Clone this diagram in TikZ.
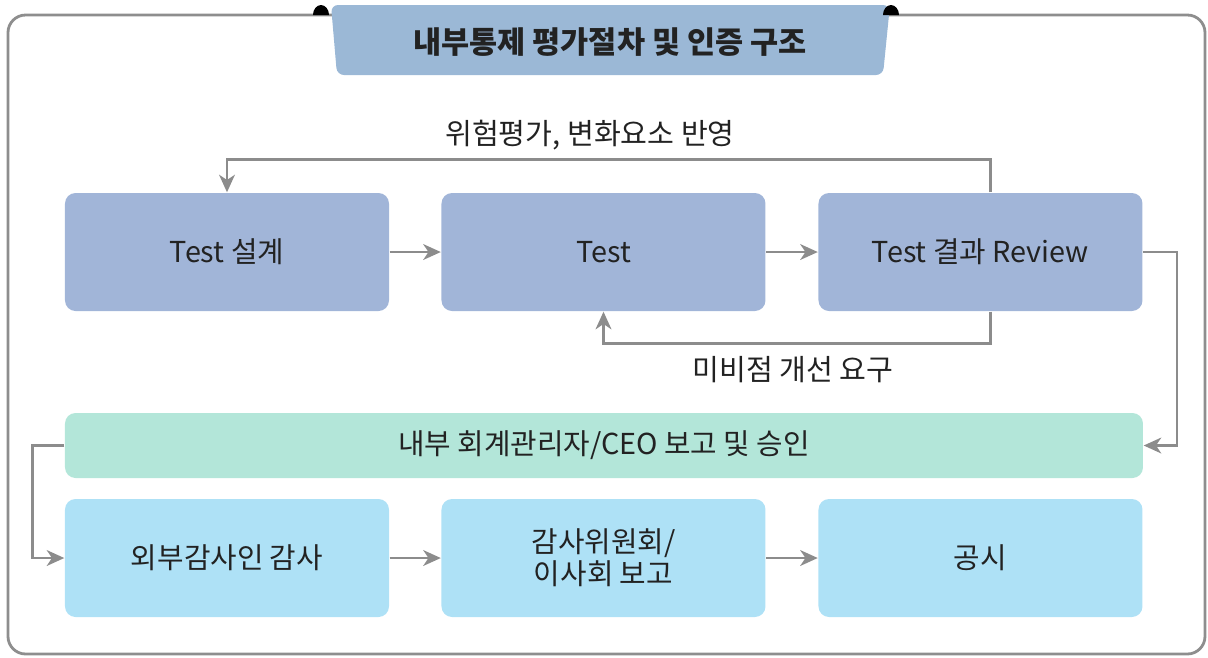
\documentclass[tikz,border=0pt]{standalone}
\usepackage{fontspec}
\setmainfont{Noto Sans CJK KR}
\usepackage{xcolor}
\definecolor{framegray}{HTML}{8E8E8E}
\definecolor{banner}{HTML}{9BB8D6}
\definecolor{pin}{HTML}{1430A8}
\definecolor{testblue}{HTML}{A1B5D8}
\definecolor{report}{HTML}{B3E6D9}
\definecolor{audit}{HTML}{AEE1F6}
\definecolor{link}{HTML}{8C8C8C}
\definecolor{ink}{HTML}{222222}
\usetikzlibrary{arrows.meta}
\tikzset{
    box/.style = {
      rounded corners=3pt,
      minimum width=3.24cm,
      minimum height=1.18cm,
      align=center,
      text=ink,
      font=\fontsize{8.2}{9}\selectfont
    },
    testbox/.style = {
      box,
      fill=testblue
    },
    auditbox/.style = {
      box,
      fill=audit
    },
    flow/.style = {
      draw=link,
      line width=0.7pt,
      -{Stealth[length=5pt,width=4.5pt,inset=1.5pt]}
    },
    note/.style = {
      text=ink,
      font=\fontsize{8.3}{9}\selectfont
    }
}

\begin{document}
\begin{tikzpicture}
      \useasboundingbox (0,0) rectangle (12.08,-6.57);
      \draw[framegray, line width=0.8pt, rounded corners=5pt] (0.08,-0.15) rectangle (12.05,-6.54);

      % title banner
      \fill[banner, rounded corners=2pt] (3.31,-0.05) -- (8.9,-0.05) -- (8.83,-0.75) -- (3.37,-0.75) -- cycle;
      \fill[pin] (3.13,-0.15) arc[start angle=180, end angle=0, x radius=0.08, y radius=0.1];
      \fill[pin] (8.83,-0.15) arc[start angle=180, end angle=0, x radius=0.08, y radius=0.1];
      \node[text=ink, font=\fontsize{8.7}{10}\selectfont\bfseries] (title) at (6.1,-0.42) {내부통제 평가절차 및 인증 구조};

      \node[testbox]  (D) at (2.27,  -2.52) {Test 설계};
      \node[testbox]  (T) at (6.035, -2.52) {Test};
      \node[testbox]  (R) at (9.805, -2.52) {Test 결과 Review};
      \node[box, fill=report, minimum width=10.78cm, minimum height=0.65cm] (C) at (6.04, -4.455) {내부 회계관리자/CEO 보고 및 승인};
      \node[auditbox] (A) at (2.27,  -5.58) {외부감사인 감사};
      \node[auditbox] (B) at (6.035, -5.58) {감사위원회/\\이사회 보고};
      \node[auditbox] (P) at (9.805, -5.58) {공시};

      \node[note] (risk) at (5.9, -1.35) {위험평가, 변화요소 반영};
      \node[note] (fix)  at (7.93, -3.70) {미비점 개선 요구};

      \draw[flow] (D) -- (T);
      \draw[flow] (T) -- (R);
      \draw[flow] (A) -- (B);
      \draw[flow] (B) -- (P);
      \draw[flow] ([xshift=0.1cm]R.north) -- ++(0,0.33) -| (D.north);
      \draw[flow] ([xshift=0.1cm]R.south) -- ++(0,-0.32) -| (T.south);
      \draw[flow] (R.east) -- ++(0.34,0) |- (C.east);
      \draw[flow] (C.west) -- ++(-0.32,0) |- (A.west);
    \end{tikzpicture}
\end{document}
